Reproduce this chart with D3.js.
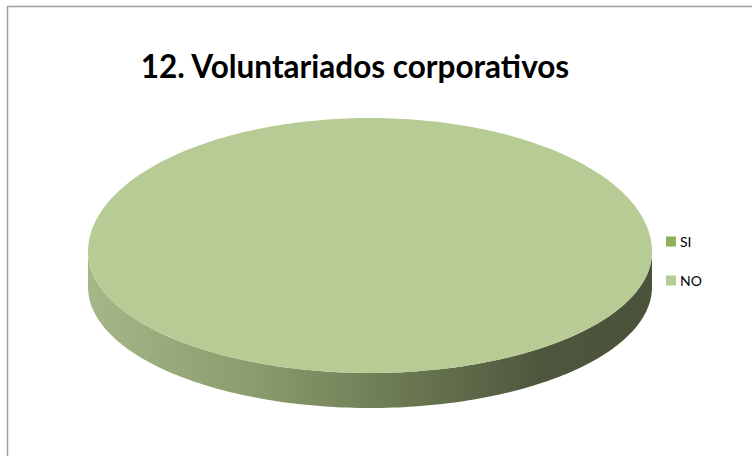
<!DOCTYPE html>
<html>
<head>
<meta charset="utf-8">
<script src="https://cdn.jsdelivr.net/npm/d3@7"></script>
<style>
  body { margin: 0; background: #fff; }
  svg { display: block; }
</style>
</head>
<body>
<div id="chart"></div>
<script>
// data
var categories = ["SI", "NO"];
var values = [0, 100];
var colors = ["#8fb05a", "#b7cb94"];
var title = "12. Voluntariados corporativos";

var width = 752, height = 456;

var svg = d3.select("#chart").append("svg")
    .attr("width", width)
    .attr("height", height);

// chart frame (runs off the right / bottom of the picture)
svg.append("rect")
    .attr("x", 7.5).attr("y", 6.5)
    .attr("width", 760).attr("height", 470)
    .attr("fill", "#fff")
    .attr("stroke", "#a0a0a0")
    .attr("stroke-width", 1.5);

svg.append("text")
    .attr("x", 355).attr("y", 78)
    .attr("text-anchor", "middle")
    .attr("font-family", "Lato, 'Open Sans', sans-serif")
    .attr("font-weight", "bold")
    .attr("font-size", 31.5)
    .attr("fill", "#000")
    .text(title);

var color = d3.scaleOrdinal().domain(categories).range(colors);

// 3d pie geometry; the near half of the disc is a bit deeper (perspective)
var cx = 370, cy = 252, rx = 282, ryBack = 134, ryFront = 121, depth = 35;

var pie = d3.pie().sort(null).value(function(d) { return d.value; });
var data = categories.map(function(c, i) { return { name: c, value: values[i] }; });
var slices = pie(data).filter(function(d) { return d.endAngle > d.startAngle; });

function pt(a, dy) {
    var c = Math.cos(a);
    var ry = c > 0 ? ryBack : ryFront;
    return [cx + rx * Math.sin(a), cy - ry * c + (dy || 0)];
}

function arcPts(a0, a1, dy) {
    var n = Math.max(2, Math.ceil((a1 - a0) / 0.02)), out = [];
    for (var i = 0; i <= n; i++) out.push(pt(a0 + (a1 - a0) * i / n, dy));
    return out;
}

// side gradient, light on the left, dark on the right
var defs = svg.append("defs");
var grad = defs.append("linearGradient")
    .attr("id", "side")
    .attr("gradientUnits", "userSpaceOnUse")
    .attr("x1", cx - rx).attr("x2", cx + rx)
    .attr("y1", 0).attr("y2", 0);
grad.append("stop").attr("offset", "0%").attr("stop-color", "#a5b787");
grad.append("stop").attr("offset", "30%").attr("stop-color", "#8a9b6c");
grad.append("stop").attr("offset", "55%").attr("stop-color", "#6c7a53");
grad.append("stop").attr("offset", "80%").attr("stop-color", "#4e573d");
grad.append("stop").attr("offset", "100%").attr("stop-color", "#4a533a");

// outer wall, only the front half (angles pi/2 .. 3pi/2) is seen
function wall(d) {
    var a0 = Math.max(d.startAngle, Math.PI / 2);
    var a1 = Math.min(d.endAngle, 3 * Math.PI / 2);
    if (a1 <= a0) return null;
    var top = arcPts(a0, a1, 0), bot = arcPts(a0, a1, depth).reverse();
    return d3.line()(top.concat(bot)) + "Z";
}

svg.selectAll(".wall")
    .data(slices)
    .enter().append("path")
    .attr("class", "wall")
    .attr("d", wall)
    .attr("fill", "url(#side)");

// top faces
function face(d) {
    var rim = arcPts(d.startAngle, d.endAngle, 0);
    if (d.endAngle - d.startAngle < 2 * Math.PI - 1e-6) rim = [[cx, cy]].concat(rim);
    return d3.line()(rim) + "Z";
}

svg.selectAll(".face")
    .data(slices)
    .enter().append("path")
    .attr("class", "face")
    .attr("d", face)
    .attr("fill", function(d) { return color(d.data.name); });

// legend
var ly = d3.scaleBand().domain(categories).range([222, 300]);

var leg = svg.selectAll(".leg")
    .data(categories)
    .enter().append("g")
    .attr("class", "leg")
    .attr("transform", function(d) { return "translate(666," + (ly(d) + ly.bandwidth() / 2) + ")"; });

leg.append("rect")
    .attr("x", 0).attr("y", -5)
    .attr("width", 10).attr("height", 10)
    .attr("fill", function(d) { return color(d); });

leg.append("text")
    .attr("x", 14).attr("y", 5)
    .attr("font-family", "Lato, sans-serif")
    .attr("font-size", 14)
    .attr("fill", "#000")
    .text(function(d) { return d; });
</script>
</body>
</html>
